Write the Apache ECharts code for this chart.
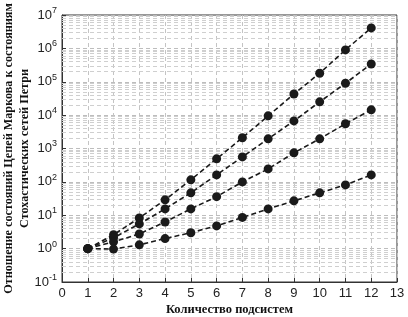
<!DOCTYPE html>
<html lang="ru">
<head>
    <meta charset="UTF-8">
    <title>Отношение состояний</title>
    <script src="https://cdn.jsdelivr.net/npm/echarts@6/dist/echarts.min.js"></script>
    <style>
        html, body, #chart {
            width: 408px;
            height: 317px;
            padding: 0;
            margin: 0;
            background: #fff;
        }
    </style>
</head>
<body>
<div id="chart"></div>
<script>
    var subsystems = [1, 2, 3, 4, 5, 6, 7, 8, 9, 10, 11, 12];
    var ratioA = [1, 2.6, 8.3, 29, 115, 490, 2100, 9500, 43000, 180000, 900000, 4100000];
    var ratioB = [1, 2.1, 5.5, 15.5, 47, 162, 560, 1950, 6700, 25000, 90000, 340000];
    var ratioC = [1, 1.6, 2.75, 6.3, 15.5, 36, 100, 245, 740, 1950, 5500, 14400];
    var ratioD = [1, 0.97, 1.3, 2.0, 3.0, 4.8, 8.6, 15.5, 27, 47, 81, 162];
    var decades = [-1, 0, 1, 2, 3, 4, 5, 6];
    var minorSteps = [2, 3, 4, 5, 6, 7, 8, 9];

    var minorLines = [];
    decades.forEach(function (d) {
        minorSteps.forEach(function (m) {
            minorLines.push({yAxis: m * Math.pow(10, d)});
        });
    });

    function pairs(vals) {
        return subsystems.map(function (x, i) { return [x, vals[i]]; });
    }

    function curve(vals) {
        return {
            type: "line",
            data: pairs(vals),
            symbol: "circle",
            symbolSize: 9,
            itemStyle: {color: "#1a1a1a"},
            lineStyle: {color: "#1a1a1a", width: 1.6, type: [5, 3]},
            z: 5
        };
    }

    var chart = echarts.init(document.getElementById("chart"));
    chart.setOption({
        animation: false,
        grid: {
            left: 62, right: 11, top: 15, bottom: 35,
            outerBoundsMode: "none",
            containLabel: false,
            show: true, borderColor: "#333", borderWidth: 1
        },
        xAxis: {
            type: "value",
            min: 0, max: 13, interval: 1,
            name: "Количество подсистем",
            nameLocation: "middle",
            nameGap: 21,
            nameMoveOverlap: false,
            nameTextStyle: {fontFamily: "Liberation Serif", fontWeight: "bold", fontSize: 12.5, color: "#111"},
            axisLine: {lineStyle: {color: "#333"}},
            axisTick: {inside: true, length: 4, lineStyle: {color: "#333"}},
            axisLabel: {fontFamily: "Liberation Sans", fontSize: 13, color: "#222", margin: 5},
            splitLine: {show: true, lineStyle: {color: "#c4c4c4", type: [4, 3]}}
        },
        yAxis: {
            type: "log",
            logBase: 10,
            min: 0.1, max: 1e7,
            name: "Отношение состояний Цепей Маркова к состояниям\nСтохастических сетей Петри",
            nameLocation: "middle",
            nameGap: 29,
            nameMoveOverlap: false,
            nameTextStyle: {fontFamily: "Liberation Serif", fontWeight: "bold", fontSize: 12.2, color: "#111", lineHeight: 16},
            axisLine: {lineStyle: {color: "#333"}},
            axisTick: {inside: true, length: 4, lineStyle: {color: "#333"}},
            axisLabel: {
                margin: 5,
                formatter: function (v) {
                    return "{b|10}{s|" + Math.round(Math.log10(v)) + "}";
                },
                rich: {
                    b: {fontFamily: "Liberation Sans", fontSize: 13, color: "#222"},
                    s: {fontFamily: "Liberation Sans", fontSize: 9, color: "#222", padding: [0, 0, 9, 0]}
                }
            },
            splitLine: {show: true, lineStyle: {color: "#bdbdbd", type: [4, 3]}}
        },
        series: [
            {
                type: "line",
                data: [],
                silent: true,
                markLine: {
                    silent: true,
                    symbol: "none",
                    label: {show: false},
                    lineStyle: {color: "#cfcfcf", width: 1, type: [4, 3]},
                    data: minorLines
                }
            },
            curve(ratioA),
            curve(ratioB),
            curve(ratioC),
            curve(ratioD)
        ]
    });
</script>
</body>
</html>
